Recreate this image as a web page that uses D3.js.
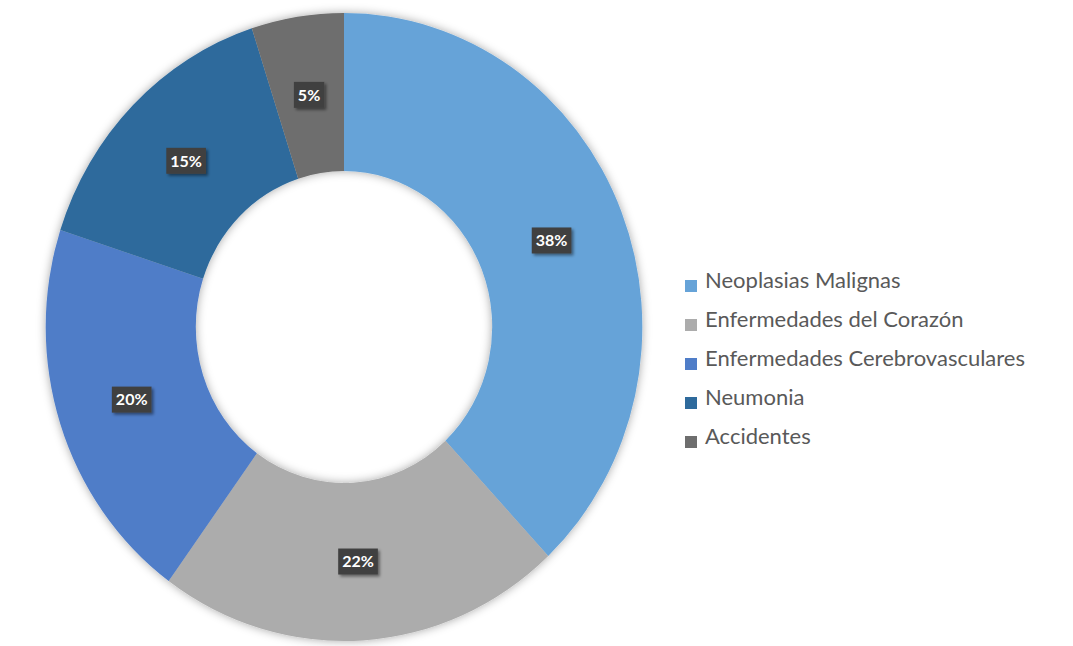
<!DOCTYPE html>
<html>
<head>
<meta charset="utf-8">
<script src="https://cdn.jsdelivr.net/npm/d3@7"></script>
<style>
  html, body { margin: 0; padding: 0; background: #ffffff; }
  svg { display: block; }
</style>
</head>
<body>
<svg id="chart" width="1073" height="646"></svg>
<script>
// Causes of death, share of total (%)
const categories = [
  "Neoplasias Malignas",
  "Enfermedades del Corazón",
  "Enfermedades Cerebrovasculares",
  "Neumonia",
  "Accidentes"
];
const values = [38, 22, 20, 15, 5];
const colors = ["#66a3d8", "#acacac", "#4f7dc8", "#2e6a9c", "#6e6e6e"];

const W = 1073, H = 646;
const cx = 344, cy = 327;
const rOuter = 314, rInner = 156;
const squeeze = 0.95; // ring is drawn slightly narrower than tall

const svg = d3.select("#chart");
const defs = svg.append("defs");

const ringShadow = defs.append("filter")
  .attr("id", "ringShadow")
  .attr("x", "-10%").attr("y", "-10%")
  .attr("width", "120%").attr("height", "120%");
ringShadow.append("feDropShadow")
  .attr("dx", 0).attr("dy", 0)
  .attr("stdDeviation", 5)
  .attr("flood-color", "#000")
  .attr("flood-opacity", 0.35);

const boxShadow = defs.append("filter")
  .attr("id", "boxShadow")
  .attr("x", "-30%").attr("y", "-30%")
  .attr("width", "160%").attr("height", "160%");
boxShadow.append("feDropShadow")
  .attr("dx", 2).attr("dy", 2)
  .attr("stdDeviation", 1.5)
  .attr("flood-color", "#000")
  .attr("flood-opacity", 0.45);

const pie = d3.pie().sort(null).value(d => d);
const arcs = pie(values);
const arc = d3.arc().innerRadius(rInner).outerRadius(rOuter);

const g = svg.append("g").attr("transform", `translate(${cx},${cy})`);

g.append("g")
  .attr("transform", `scale(${squeeze},1)`)
  .attr("filter", "url(#ringShadow)")
  .selectAll("path")
  .data(arcs)
  .join("path")
  .attr("d", arc)
  .attr("fill", (d, i) => colors[i]);

// Value labels in dark boxes
const labels = g.append("g")
  .selectAll("g")
  .data(arcs)
  .join("g")
  .attr("transform", d => {
    const [x, y] = arc.centroid(d);
    return `translate(${x * squeeze},${y})`;
  });

labels.append("text")
  .attr("text-anchor", "middle")
  .attr("dy", "0.36em")
  .attr("font-family", "Lato, 'Open Sans', sans-serif")
  .attr("font-weight", "bold")
  .attr("font-size", 16)
  .attr("fill", "#ffffff")
  .text(d => d.data + "%");

labels.each(function () {
  const grp = d3.select(this);
  const bb = grp.select("text").node().getBBox();
  grp.insert("rect", "text")
    .attr("x", bb.x - 4)
    .attr("y", -13)
    .attr("width", bb.width + 8)
    .attr("height", 26)
    .attr("fill", "#404040")
    .attr("filter", "url(#boxShadow)");
});

// Legend
const legendX = 685, legendY0 = 288, legendStep = 39;
const legend = svg.append("g")
  .selectAll("g")
  .data(categories)
  .join("g")
  .attr("transform", (d, i) => `translate(${legendX},${legendY0 + i * legendStep})`);

legend.append("rect")
  .attr("x", 0).attr("y", -8)
  .attr("width", 12).attr("height", 12)
  .attr("fill", (d, i) => colors[i]);

legend.append("text")
  .attr("x", 20).attr("y", 0)
  .attr("font-family", "Lato, 'Open Sans', sans-serif")
  .attr("font-size", 22)
  .attr("fill", "#595959")
  .text(d => d);
</script>
</body>
</html>
